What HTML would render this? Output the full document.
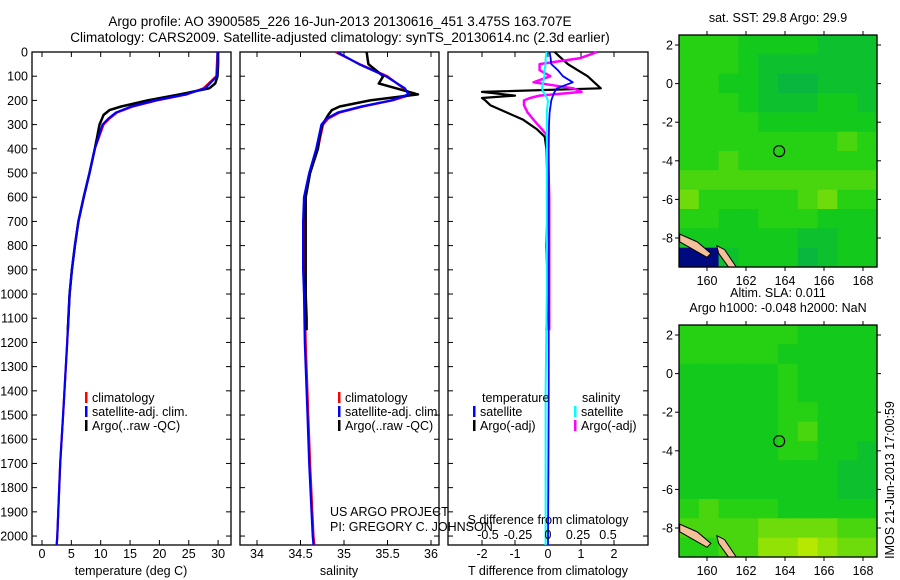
<!DOCTYPE html>
<html><head><meta charset="utf-8">
<style>
html,body{margin:0;padding:0;background:#fff;}
svg{display:block;font-family:"Liberation Sans",sans-serif;}
text{font-size:12.5px;fill:#000;}
</style></head>
<body>
<svg id="fig" width="900" height="580" viewBox="0 0 900 580" xmlns="http://www.w3.org/2000/svg">
<text x="340" y="26" text-anchor="middle" style="font-size:13.5px">Argo profile: AO 3900585_226 16-Jun-2013 20130616_451 3.475S 163.707E</text>
<text x="340" y="42" text-anchor="middle" style="font-size:13.5px">Climatology: CARS2009. Satellite-adjusted climatology: synTS_20130614.nc (2.3d earlier)</text>
<g id="g1"></g>
<g id="g2"></g>
<g id="g3"></g>
<g id="m1"></g>
<g id="m2"></g>
<text x="330" y="516">US ARGO PROJECT</text>
<text x="330" y="531">PI: GREGORY C. JOHNSON</text>
<text x="894" y="480" transform="rotate(-90 894 480)" text-anchor="middle">IMOS 21-Jun-2013 17:00:59</text>
</svg>
<script>
// ---- data ----
const depthClim = [0,50,100,150,175,200,225,250,275,300,400,500,600,700,800,900,1000,1200,1500,1700,2000,2037];
const tempClim  = [29.9,29.8,29.7,27.5,24.7,19.6,15.5,12.8,11.5,10.5,9.0,8.1,7.1,6.2,5.6,5.1,4.7,4.3,3.6,3.1,2.6,2.5];
const tempSat   = [29.9,29.9,29.8,27.8,24.5,19.3,15.2,12.6,11.3,10.3,9.0,8.1,7.1,6.2,5.6,5.1,4.7,4.3,3.6,3.1,2.6,2.5];
const depthArgo = [0,50,100,130,150,175,200,225,240,260,300,350,400,500,600,700,800,900,1000,1100,1150];
const tempArgo  = [30.0,30.0,29.9,29.5,28.5,23.5,18.0,13.5,11.5,10.5,9.8,9.4,9.0,8.1,7.1,6.2,5.6,5.1,4.7,4.5,4.4];
const salClim   = [34.9,35.18,35.5,35.68,35.78,35.56,35.22,34.95,34.82,34.76,34.70,34.61,34.55,34.54,34.54,34.54,34.55,34.56,34.59,34.61,34.65,34.66];
const salSat    = [34.92,35.17,35.48,35.7,35.74,35.54,35.2,34.93,34.8,34.74,34.68,34.6,34.54,34.53,34.53,34.53,34.54,34.55,34.58,34.6,34.64,34.65];
const salArgo   = [35.26,35.28,35.45,35.4,35.6,35.85,35.3,34.95,34.86,34.82,34.75,34.72,34.70,34.61,34.56,34.56,34.56,34.56,34.56,34.57,34.57];
const depthDiff = [0,25,50,75,100,125,150,165,180,190,200,220,250,280,320,350,400,600,800,1000,1150];
const tDiffArgo = [0.2,0.4,0.6,0.9,1.2,1.4,1.6,-2.0,-1.0,-2.0,-1.9,-1.75,-1.25,-0.75,-0.33,-0.1,-0.05,0.0,-0.05,0.0,-0.05];
const sDiffArgo = [0.41,0.27,-0.07,-0.07,0.02,-0.12,0.21,0.28,-0.07,-0.15,-0.2,-0.2,-0.17,-0.12,-0.05,0.0,0.0,0.01,0.01,0.01,0.01];
const depthDiffSat = [0,25,50,75,100,125,150,165,180,200,250,300,400,600,800,1000,1400,1800,2037];
const tDiffSat  = [0.05,0.08,0.1,0.3,0.45,0.75,0.27,0.2,0.15,0.1,0.05,0.03,0.02,0.02,0.02,0.02,0.02,0.01,0.0];
const sDiffSat  = [-0.01,-0.02,-0.02,-0.03,-0.03,-0.04,-0.05,-0.04,-0.02,0,-0.01,-0.01,-0.01,-0.01,-0.01,-0.01,-0.02,-0.02,-0.02];
const depthTicks = [0,100,200,300,400,500,600,700,800,900,1000,1100,1200,1300,1400,1500,1600,1700,1800,1900,2000];
const tempTicks = [0,5,10,15,20,25,30];
const salTicks = ["34","34.5","35","35.5","36"];
const tdTicks = [-2,-1,0,1,2];
const sdTicks = ["-0.5","-0.25","0","0.25","0.5"];
const lonTicks = [160,162,164,166,168];
const latTicks = [2,0,-2,-4,-6,-8];
const sstGrid = [
"5554444333","5554333333","5544322333","5554333443","5555444444","5555555565",
"5565555555","6666666666","7555556755","5544555444","4444443344","bb34442344"];
const slaGrid = [
"5555554444","5555544444","4444454444","4444454444","4444455444","4444456444",
"4444455443","4444444433","4444444433","5655544444","6666777766","5566889877"];
const floatLon = 163.7, floatLat = -3.5;

// ---- helpers ----
const NS="http://www.w3.org/2000/svg";
function mk(parent,tag,attrs){const e=document.createElementNS(NS,tag);for(const k in attrs)e.setAttribute(k,attrs[k]);parent.appendChild(e);return e;}
const top0=52, bot0=545, dMax=2037;
const yD = d => top0 + d*(bot0-top0)/dMax;
function frame(g,x0,x1,name){
  const r=mk(g,'rect',{x:x0,y:top0,width:x1-x0,height:bot0-top0,fill:'none',stroke:'#000','stroke-width':1.3});
  
  
}
function line(g,xs,ds,xf,color,w,name){
  const pts=xs.map((v,i)=>xf(v).toFixed(1)+','+yD(ds[i]).toFixed(1)).join(' ');
  const p=mk(g,'polyline',{points:pts,fill:'none',stroke:color,'stroke-width':w,'stroke-linejoin':'round'});
  
  
}
function xticks(g,vals,xf,labels,y,name){
  vals.forEach((v,i)=>{
    const x=xf(+v);
    mk(g,'line',{x1:x,x2:x,y1:top0,y2:top0+5,stroke:'#000'});
    mk(g,'line',{x1:x,x2:x,y1:bot0,y2:bot0-5,stroke:'#000'});
    const t=mk(g,'text',{x:x,y:y,'text-anchor':'middle'});t.textContent=labels[i];
    
    
  });
}
function yticks(g,x0,x1,labels){
  depthTicks.forEach(d=>{
    const y=yD(d);
    mk(g,'line',{x1:x0,x2:x0+5,y1:y,y2:y,stroke:'#000'});
    mk(g,'line',{x1:x1,x2:x1-5,y1:y,y2:y,stroke:'#000'});
    if(labels){const t=mk(g,'text',{x:28,y:y+4.5,'text-anchor':'end'});t.textContent=d;
      
      }
  });
}
function legend(g,x,y,color,label,name){
  mk(g,'rect',{x:x,y:y-10,width:2.5,height:11,fill:color});
  const t=mk(g,'text',{x:x+7,y:y});t.textContent=label;
  
  
}
function label(g,x,y,s,name,anchor){const t=mk(g,'text',{x:x,y:y,'text-anchor':anchor||'middle'});t.textContent=s;
  
  }

// ---- panel 1: temperature ----
const g1=document.getElementById('g1');
const xT=v=>42+v*5.87;
frame(g1,32,231,'temperature-axes');
yticks(g1,32,231,true);
xticks(g1,tempTicks,xT,tempTicks.map(String),558,'temperature-tick-label');
line(g1,tempClim,depthClim,xT,'#ff0000',2.2,'temperature-climatology-line');
line(g1,tempArgo,depthArgo,xT,'#000',2.5,'temperature-argo-line');
line(g1,tempSat,depthClim,xT,'#0000ff',2.2,'temperature-satellite-line');
label(g1,131,575,'temperature (deg C)','temperature-axis-title');
legend(g1,85,402,'#ff0000','climatology','legend-climatology');
legend(g1,85,416,'#0000ff','satellite-adj. clim.','legend-satellite');
legend(g1,85,430,'#000','Argo(..raw -QC)','legend-argo');

// ---- panel 2: salinity ----
const g2=document.getElementById('g2');
const xS=v=>257+(v-34)*87;
frame(g2,240,439,'salinity-axes');
yticks(g2,240,439,false);
xticks(g2,salTicks,xS,salTicks,558,'salinity-tick-label');
line(g2,salClim,depthClim,xS,'#ff0000',2.2,'salinity-climatology-line');
line(g2,salArgo,depthArgo,xS,'#000',2.5,'salinity-argo-line');
line(g2,salSat,depthClim,xS,'#0000ff',2.2,'salinity-satellite-line');
label(g2,339,575,'salinity','salinity-axis-title');
legend(g2,338,402,'#ff0000','climatology','legend-climatology');
legend(g2,338,416,'#0000ff','satellite-adj. clim.','legend-satellite');
legend(g2,338,430,'#000','Argo(..raw -QC)','legend-argo');

// ---- panel 3: differences ----
const g3=document.getElementById('g3');
const xTD=v=>548+v*33, xSD=v=>548+v*120;
frame(g3,448,648,'difference-axes');
yticks(g3,448,648,false);
xticks(g3,tdTicks,xTD,tdTicks.map(String),558,'t-diff-tick-label');
line(g3,tDiffArgo,depthDiff,xTD,'#000',2.2,'t-diff-argo-line');
line(g3,sDiffArgo,depthDiff,xSD,'#ff00ff',2.5,'s-diff-argo-line');
line(g3,tDiffSat,depthDiffSat,xTD,'#0000ff',1.8,'t-diff-satellite-line');
line(g3,sDiffSat,depthDiffSat,xSD,'#00ffff',2,'s-diff-satellite-line');
label(g3,548,575,'T difference from climatology','t-diff-axis-title');
label(g3,548,524,'S difference from climatology','s-diff-axis-title');
sdTicks.forEach(s=>label(g3,xSD(+s),539,s,'s-diff-tick-label'));
label(g3,482,402,'temperature','legend-temperature-heading','start');
legend(g3,473,416,'#0000ff','satellite','legend-t-satellite');
legend(g3,473,430,'#000','Argo(-adj)','legend-t-argo');
label(g3,582,402,'salinity','legend-salinity-heading','start');
legend(g3,574,416,'#00ffff','satellite','legend-s-satellite');
legend(g3,574,430,'#ff00ff','Argo(-adj)','legend-s-argo');

// ---- maps ----
function colorFor(c){
  if(c==='b')return '#000a80';
  const v=(+c)/9;
  const a=[0,165,95],m=[20,205,20],y=[200,235,0];
  let r;
  if(v<0.5){const t=v/0.5;r=a.map((q,i)=>q+(m[i]-q)*t);} else {const t=(v-0.5)/0.5;r=m.map((q,i)=>q+(y[i]-q)*t*0.9);}
  return 'rgb('+r.map(Math.round).join(',')+')';
}
function drawMap(id,grid,mTop,titles,cellName){
  const g=document.getElementById(id);
  const L=679,R=877,B=mTop+232;
  const xL=lon=>707+(lon-160)*19.5, yL=lat=>mTop+10+(2-lat)*19.3;
  const cols=grid[0].length, rows=grid.length;
  const cw=(R-L)/cols, ch=(B-mTop)/rows;
  grid.forEach((row,ri)=>{
    for(let ci=0;ci<cols;ci++){
      const c=mk(g,'rect',{x:(L+ci*cw).toFixed(1),y:(mTop+ri*ch).toFixed(1),width:(cw+0.6).toFixed(1),height:(ch+0.6).toFixed(1),fill:colorFor(row[ci])});
      
      
    }
  });
  const land=mk(g,'polygon',{points:[xL(158.6)+','+yL(-7.8),xL(159.5)+','+yL(-8.2),xL(160.2)+','+yL(-8.8),xL(160.0)+','+yL(-9.0),xL(159.3)+','+yL(-8.6),xL(158.6)+','+yL(-8.2)].join(' '),fill:'#f4c09a',stroke:'#000','stroke-width':1});
  
  
  const land2=mk(g,'polygon',{points:[xL(160.5)+','+yL(-8.4),xL(160.9)+','+yL(-8.6),xL(161.5)+','+yL(-9.5),xL(161.1)+','+yL(-9.5),xL(160.6)+','+yL(-8.8)].join(' '),fill:'#f4c09a',stroke:'#000','stroke-width':1});
  
  
  const fl=mk(g,'circle',{cx:xL(floatLon),cy:yL(floatLat),r:5.5,fill:'none',stroke:'#000','stroke-width':1.2});
  
  
  mk(g,'rect',{x:L,y:mTop,width:R-L,height:B-mTop,fill:'none',stroke:'#000','stroke-width':1.3});
  lonTicks.forEach(lo=>{const x=xL(lo);mk(g,'line',{x1:x,x2:x,y1:mTop,y2:mTop-4,stroke:'#000'});mk(g,'line',{x1:x,x2:x,y1:B,y2:B+4,stroke:'#000'});
    label(g,x,B+18,String(lo),'longitude-tick-label');});
  latTicks.forEach(la=>{const y=yL(la);mk(g,'line',{x1:L,x2:L-4,y1:y,y2:y,stroke:'#000'});mk(g,'line',{x1:R,x2:R+4,y1:y,y2:y,stroke:'#000'});
    label(g,L-6,y+4.5,String(la),'latitude-tick-label','end');});
  titles.forEach((t,i)=>label(g,778,mTop-13-(titles.length-1-i)*15,t,'map-title'));
}
drawMap('m1',sstGrid,35,['sat. SST: 29.8 Argo: 29.9'],'sst-cell');
drawMap('m2',slaGrid,325,['Altim. SLA: 0.011','Argo h1000: -0.048 h2000: NaN'],'sla-cell');
</script>
</body></html>
